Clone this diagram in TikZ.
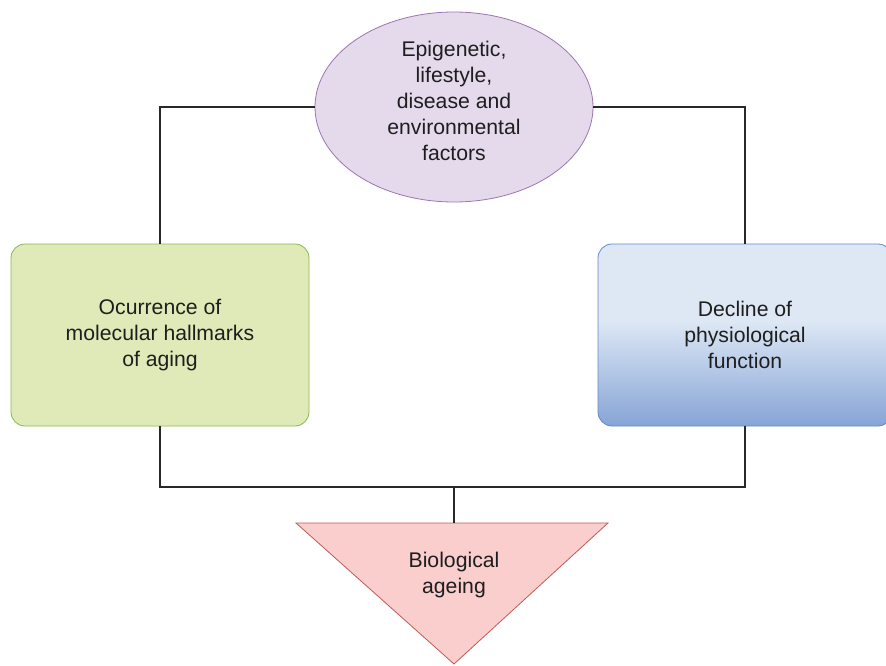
\documentclass[tikz,border=0pt]{standalone}
\usepackage{fontspec}
\setmainfont{Liberation Sans}
\usetikzlibrary{shapes.geometric}
\definecolor{purplefill}{RGB}{228,218,236}
\definecolor{purpleline}{RGB}{155,118,176}
\definecolor{greenfill}{RGB}{224,234,184}
\definecolor{greenline}{RGB}{140,182,76}
\definecolor{bluetop}{RGB}{222,232,245}
\definecolor{bluebottom}{RGB}{134,164,214}
\definecolor{blueline}{RGB}{98,138,198}
\definecolor{redfill}{RGB}{249,206,205}
\definecolor{redline}{RGB}{190,90,86}
\definecolor{textgray}{RGB}{30,30,30}
\definecolor{linegray}{RGB}{40,40,40}
\pgfdeclareverticalshading{bluefade}{100bp}{color(0bp)=(bluebottom); color(25bp)=(bluebottom);
color(54bp)=(bluetop); color(100bp)=(bluetop)}

\begin{document}
\begin{tikzpicture}
[ x=1pt, y=-1pt,
every node/.style={font=\fontsize{21.2}{26}\selectfont, text=textgray},
factor/.style={ellipse, draw=purpleline, fill=purplefill, thick,
inner sep=0pt, minimum width=278pt, minimum height=190pt},
block/.style ={rectangle, thick, rounded corners=14pt,
minimum height=182pt, align=center},
ageingtri/.style={draw=redline, fill=redfill, thick},
link/.style={draw=linegray, line width=1.3pt},
]
\useasboundingbox (0,0) rectangle (886,666);

% top
\node (factors) [factor, label={[align=center, yshift=6pt]center:Epigenetic,\\lifestyle,\\disease and\\environmental\\factors}] at (454,107) {};
% left and right
\node (hallmarks) [block, draw=greenline, fill=greenfill, minimum width=298pt] at (160,335)
{Ocurrence of\\molecular hallmarks\\of aging};
\node (decline) [block, draw=blueline, shading=bluefade, minimum width=294pt] at (745,335)
{Decline of\\physiological\\function};
% bottom
\coordinate (join) at (454,487);
\coordinate (tritop) at (454,523);
\path[ageingtri] (296,523) -- (608,523) -- (454,664) -- cycle;
\node (ageing) [align=center] at (454,575) {Biological\\ageing};

\draw[link] (factors.west) -| (hallmarks.north);
\draw[link] (factors.east) -| (decline.north);
\draw[link] (hallmarks.south) |- (join) -| (decline.south);
\draw[link] (join) -- (tritop);
\end{tikzpicture}
\end{document}
